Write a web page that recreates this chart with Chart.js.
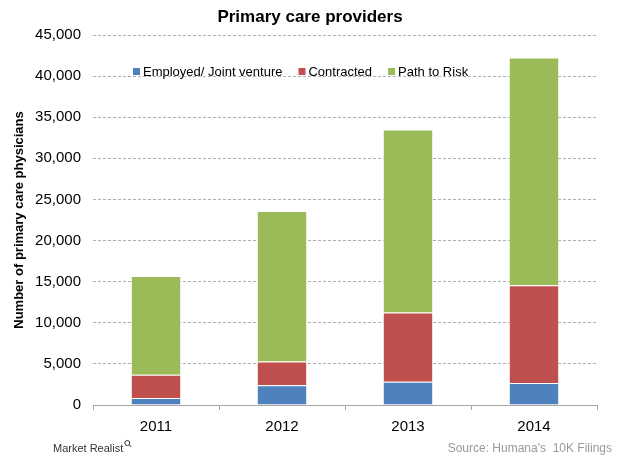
<!DOCTYPE html>
<html>
<head>
<meta charset="utf-8">
<script src="https://cdn.jsdelivr.net/npm/chart.js@4"></script>
<style>
  html, body { margin: 0; padding: 0; background: #fff; }
  #wrap { width: 620px; height: 463px; position: relative; }
</style>
</head>
<body>
<div id="wrap"><canvas id="chart" width="620" height="463"></canvas></div>
<script>
// data
const years = ['2011', '2012', '2013', '2014'];
const employed = [850, 2400, 2830, 2670];
const contracted = [2830, 2900, 8420, 11890];
const pathToRisk = [12020, 18280, 22250, 27710];
const seriesNames = ['Employed/ Joint venture', 'Contracted', 'Path to Risk'];
const seriesColors = ['#4F81BD', '#C0504D', '#9BBB59'];

const titleText = 'Primary care providers';
const yTitle = 'Number of primary care physicians';
const sourceText = "Source: Humana's  10K Filings";
const brandText = 'Market Realist';

// draws title, inline legend and footer texts
const decorations = {
    id: 'decorations',
    afterDraw(chart) {
        const ctx = chart.ctx;
        ctx.save();

        // title
        ctx.fillStyle = '#000';
        ctx.font = 'bold 17px "Liberation Sans Narrow", "Liberation Sans", sans-serif';
        ctx.textAlign = 'center';
        ctx.textBaseline = 'middle';
        ctx.fillText(titleText, 310, 17);

        // legend inside the plot area (transparent, like the original)
        ctx.font = '13px "Liberation Sans", Arial, sans-serif';
        ctx.textAlign = 'left';
        let x = 133;
        const y = 72;
        chart.data.datasets.forEach(ds => {
            const w = ctx.measureText(ds.label).width;
            ctx.fillStyle = ds.backgroundColor;
            ctx.fillRect(x, y - 4, 7, 7);
            ctx.fillStyle = '#000';
            ctx.fillText(ds.label, x + 10, y);
            x += w + 10 + 16;
        });

        // footer
        ctx.fillStyle = '#9a9a9a';
        ctx.font = '12px "Liberation Sans", Arial, sans-serif';
        ctx.textAlign = 'right';
        ctx.fillText(sourceText, 612, 449);

        ctx.fillStyle = '#333';
        ctx.font = '11px "Liberation Sans Narrow", "Liberation Sans", sans-serif';
        ctx.textAlign = 'left';
        ctx.fillText(brandText, 53, 449);
        const bw = ctx.measureText(brandText).width;
        // tiny magnifier mark after the brand
        ctx.strokeStyle = '#333';
        ctx.lineWidth = 1;
        ctx.beginPath();
        ctx.arc(53 + bw + 4, 443, 2.5, 0, Math.PI * 2);
        ctx.moveTo(53 + bw + 6, 445);
        ctx.lineTo(53 + bw + 8, 447);
        ctx.stroke();

        ctx.restore();
    }
};

new Chart(document.getElementById('chart').getContext('2d'), {
    type: 'bar',
    data: {
        labels: years,
        datasets: [
            { label: seriesNames[0], data: employed, backgroundColor: seriesColors[0] },
            { label: seriesNames[1], data: contracted, backgroundColor: seriesColors[1] },
            { label: seriesNames[2], data: pathToRisk, backgroundColor: seriesColors[2] }
        ].map(d => Object.assign(d, {
            borderColor: 'rgba(255,255,255,0.45)',
            borderWidth: 1,
            borderSkipped: 'bottom',
            categoryPercentage: 1,
            barPercentage: 0.4
        }))
    },
    options: {
        responsive: false,
        animation: false,
        layout: { padding: { top: 35, right: 23, bottom: 0, left: 0 } },
        plugins: {
            legend: { display: false },
            title: { display: false },
            tooltip: { enabled: false }
        },
        scales: {
            x: {
                stacked: true,
                afterFit(scale) { scale.height = 58; },
                grid: {
                    offset: true,
                    drawOnChartArea: false,
                    drawTicks: true,
                    tickLength: 5,
                    color: '#a6a6a6'
                },
                border: { display: true, color: '#a6a6a6', width: 1 },
                ticks: {
                    color: '#000',
                    padding: 8,
                    font: { family: '"Liberation Sans", Arial, sans-serif', size: 15 }
                }
            },
            y: {
                stacked: true,
                min: 0,
                max: 45000,
                afterFit(scale) { scale.width = 93; },
                grid: {
                    drawTicks: false,
                    color: ctx => ctx.tick && ctx.tick.value === 0 ? 'rgba(0,0,0,0)' : '#b0b0b0'
                },
                border: { display: false, dash: [3, 2] },
                ticks: {
                    stepSize: 5000,
                    color: '#000',
                    padding: 12,
                    font: { family: '"Liberation Sans", Arial, sans-serif', size: 15 },
                    callback: v => v.toLocaleString('en-US')
                },
                title: {
                    display: true,
                    text: yTitle,
                    color: '#000',
                    padding: { top: 12, bottom: 0 },
                    font: { family: '"Liberation Sans", Arial, sans-serif', size: 13, weight: 'bold' }
                }
            }
        }
    },
    plugins: [decorations]
});
</script>
</body>
</html>
